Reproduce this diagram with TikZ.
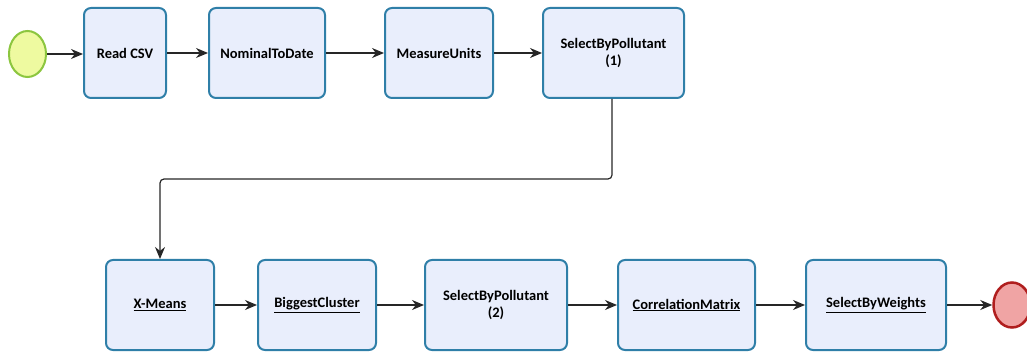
\documentclass[tikz,border=0pt]{standalone}
\usepackage{fontspec}
\setmainfont{Carlito}
\usetikzlibrary{shapes.geometric, arrows.meta}

\begin{document}
\begin{tikzpicture}[x=1pt, y=-1pt,
    task/.style={draw=taskline, fill=taskfill, line width=2pt, rounded corners=7pt,
        minimum height=90pt, align=center, font=\fontsize{14.5}{17}\selectfont\bfseries},
    flow/.style={-{Stealth[length=12pt, width=10pt]}, line width=1.2pt, black!85}]
    \definecolor{taskline}{HTML}{2F7FA8}
    \definecolor{taskfill}{HTML}{E9EEFC}
    \useasboundingbox (0,0) rectangle (1027,352);
    % top row
    \node[ellipse, draw={rgb,255:red,140;green,198;blue,63}, fill={rgb,255:red,238;green,250;blue,160},
        line width=2pt, minimum width=37pt, minimum height=46pt, inner sep=0pt] (0) at (27.5,54) {};
    \node[task, minimum width=82pt] (1) at (125,53) {Read CSV};
    \node[task, minimum width=116pt] (2) at (267,53) {NominalToDate};
    \node[task, minimum width=108pt] (3) at (439,53) {MeasureUnits};
    \node[task, minimum width=141pt] (4) at (613.5,53) {SelectByPollutant\\(1)};
    % bottom row
    \node[task, minimum width=108pt] (5) at (160,305) {\underline{X-Means}};
    \node[task, minimum width=118pt] (6) at (317,305) {\underline{BiggestCluster}};
    \node[task, minimum width=142pt] (7) at (496,305) {SelectByPollutant\\(2)};
    \node[task, minimum width=137pt] (8) at (686.5,305) {\underline{CorrelationMatrix}};
    \node[task, minimum width=140pt] (9) at (876,305) {\underline{SelectByWeights}};
    \node[ellipse, draw={rgb,255:red,176;green,30;blue,30}, fill={rgb,255:red,240;green,164;blue,164},
        line width=2.5pt, minimum width=37pt, minimum height=45pt, inner sep=0pt] (10) at (1012,305) {};

    \draw[flow] (0) -- (1.west |- 0.east);
    \draw[flow] (1) -- (2);
    \draw[flow] (2) -- (3);
    \draw[flow] (3) -- (4);
    \draw[flow, rounded corners=4pt] (4.south -| 612,0) |- (160,179) -- (5.north -| 160,0);
    \draw[flow] (5) -- (6);
    \draw[flow] (6) -- (7);
    \draw[flow] (7) -- (8);
    \draw[flow] (8) -- (9);
    \draw[flow] (9) -- (10);
\end{tikzpicture}
\end{document}
